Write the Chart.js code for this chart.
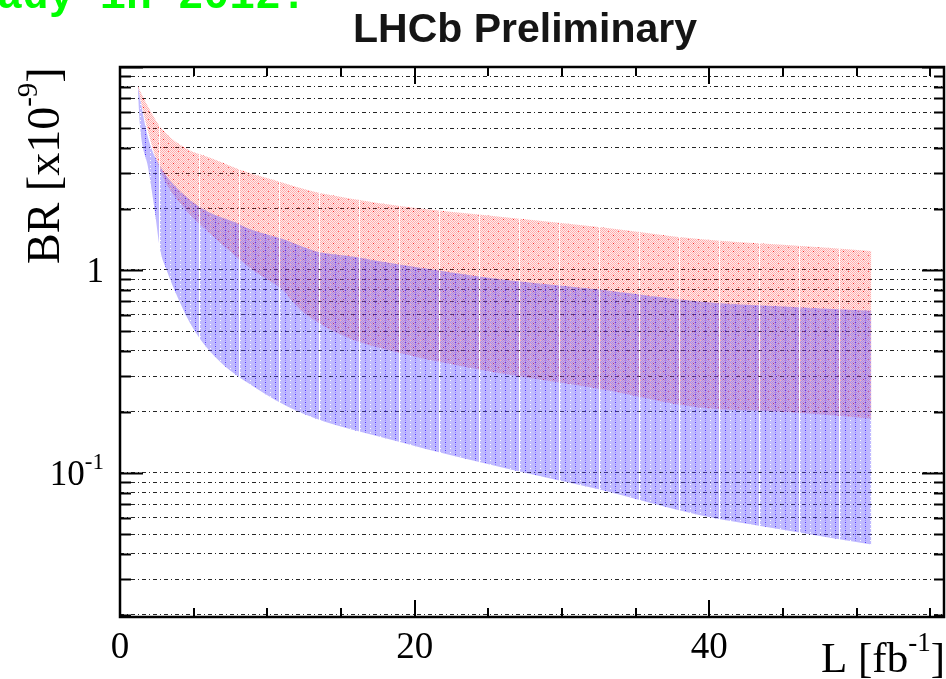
<!DOCTYPE html>
<html><head><meta charset="utf-8">
<script src="https://cdn.jsdelivr.net/npm/chart.js@4.4.0/dist/chart.umd.min.js"></script>
<style>html,body{margin:0;padding:0;background:#fff;}canvas{display:block;}</style>
</head><body>
<canvas id="c" width="946" height="679"></canvas>
<script>
// ---- data (L in fb^-1, BR in 1e-9) ----
const redUpperL  = [1.2, 1.7, 2.8, 4.4, 6.2, 8.8, 11, 13, 15.6, 19.4, 25.8, 32.5, 39.3, 45, 51];
const redUpperBR = [8.1, 6.8, 5.0, 4.0, 3.55, 3.0, 2.7, 2.45, 2.25, 2.05, 1.83, 1.63, 1.42, 1.33, 1.24];
const redLowerL  = [1.2, 1.7, 2.8, 4.4, 6.0, 7.1, 9.0, 11, 12.2, 15, 19, 25.8, 32.5, 39.3, 45, 51];
const redLowerBR = [8.1, 5.5, 3.0, 2.0, 1.54, 1.3, 1.0, 0.8, 0.64, 0.48, 0.39, 0.31, 0.26, 0.21, 0.2, 0.185];
const blueUpperL  = [1.2, 1.9, 2.83, 4.4, 6.0, 7.8, 8.8, 11.05, 13.4, 15.6, 17.4, 19.5, 25.8, 32.5, 39.3, 45, 51];
const blueUpperBR = [8.1, 4.5, 3.15, 2.33, 1.93, 1.72, 1.59, 1.42, 1.23, 1.17, 1.11, 1.05, 0.9, 0.8, 0.70, 0.66, 0.63];
const blueLowerL  = [1.2, 1.36, 1.92, 2.37, 2.71, 3.16, 4.0, 5.0, 6.6, 9.0, 12.2, 19, 25.8, 32.5, 39.3, 45, 51];
const blueLowerBR = [8.1, 5.1, 3.15, 1.93, 1.27, 1.0, 0.71, 0.51, 0.364, 0.268, 0.199, 0.142, 0.107, 0.083, 0.062, 0.0525, 0.0444];

const xTickValues = [0, 20, 40];
const xTickLabels = ['0', '20', '40'];
const yLabelValues = [1, 0.1];
const yLabelBase = ['1', '10'];
const yLabelSup = ['', '-1'];
const titleText = 'LHCb Preliminary';
const bannerText = 'ady in 2012.';

function pts(xs, ys) { return xs.map((x, i) => ({x: x, y: ys[i]})); }

function makePattern(kind) {
  const c = document.createElement('canvas');
  const w = 40, h = 8;
  c.width = w; c.height = h;
  const g = c.getContext('2d');
  for (let x = 0; x < w; x++) {
    if (x === w - 1) continue; // white gap column
    for (let y = 0; y < h; y++) {
      let col;
      if (kind === 'red') {
        col = ((x + y) % 2 === 0) ? 'rgba(255,30,30,0.36)' : 'rgba(255,0,0,0.08)';
        if (x % 10 === 3 && y % 8 === 3) col = 'rgba(255,0,0,0.9)';
        if (x % 10 === 8 && y % 8 === 7) col = 'rgba(255,0,0,0.6)';
      } else {
        col = 'rgba(95,80,255,0.40)';
        if (x % 10 === 0 && y % 4 === 0) col = 'rgba(255,255,255,0)';
        if (x % 10 === 5 && y % 4 === 2) col = 'rgba(30,0,255,0.8)';
        if (x % 10 === 5 && y % 4 === 0) col = 'rgba(80,60,255,0.6)';
      }
      g.fillStyle = col;
      g.fillRect(x, y, 1, 1);
    }
  }
  const ctx = document.getElementById('c').getContext('2d');
  return ctx.createPattern(c, 'repeat');
}

const redPattern = makePattern('red');
const bluePattern = makePattern('blue');

const serif = "'Liberation Serif','DejaVu Serif',serif";

function drawSup(ctx, base, sup, x, y, bigPx, smallPx, rise, align) {
  ctx.font = bigPx + 'px ' + serif; const wb = ctx.measureText(base).width;
  ctx.font = smallPx + 'px ' + serif; const ws = sup ? ctx.measureText(sup).width : 0;
  let x0 = align === 'right' ? x - wb - ws : x;
  ctx.textAlign = 'left';
  ctx.font = bigPx + 'px ' + serif; ctx.fillText(base, x0, y);
  if (sup) { ctx.font = smallPx + 'px ' + serif; ctx.fillText(sup, x0 + wb, y - rise); }
  return x0 + wb + ws;
}

const framePlugin = {
  id: 'frame',
  afterDraw(chart) {
    const ctx = chart.ctx;
    const a = chart.chartArea;
    const xs = chart.scales.x, ys = chart.scales.y;
    ctx.save();
    ctx.strokeStyle = '#000';
    ctx.lineWidth = 2;
    for (let v = 0; v <= 55; v += 5) {
      const px = Math.round(xs.getPixelForValue(v));
      const len = (v % 20 === 0) ? 17 : 9;
      ctx.beginPath();
      ctx.moveTo(px, a.bottom); ctx.lineTo(px, a.bottom - len);
      ctx.moveTo(px, a.top); ctx.lineTo(px, a.top + len);
      ctx.stroke();
    }
    ys.ticks.forEach(t => {
      const py = Math.round(ys.getPixelForValue(t.value)) + 0.5;
      const lg = Math.log10(t.value);
      const major = Math.abs(lg - Math.round(lg)) < 1e-6;
      const len = major ? 23 : 11;
      ctx.beginPath();
      ctx.moveTo(a.left, py); ctx.lineTo(a.left + len, py);
      ctx.moveTo(a.right, py); ctx.lineTo(a.right - len, py);
      ctx.stroke();
    });
    ctx.lineWidth = 2.5;
    ctx.strokeRect(a.left, a.top, a.right - a.left - 1, a.bottom - a.top);

    // y tick labels with superscripts, placed from the scale
    ctx.fillStyle = '#000';
    ctx.textBaseline = 'alphabetic';
    yLabelValues.forEach((v, i) => {
      const py = ys.getPixelForValue(v);
      drawSup(ctx, yLabelBase[i], yLabelSup[i], a.left - 16, py + 12, 35, 23, 16, 'right');
    });

    // title
    ctx.fillStyle = '#151515';
    ctx.font = "bold 41px 'Liberation Sans', Arial, sans-serif";
    ctx.textAlign = 'center';
    ctx.fillText(titleText, 525, 42);

    // green banner (cut off at top)
    ctx.fillStyle = '#00ff00';
    ctx.font = "bold 43px 'Liberation Mono', 'Courier New', monospace";
    ctx.textAlign = 'left';
    ctx.fillText(bannerText, -3, 8);

    // x axis title: L [fb^-1]
    ctx.fillStyle = '#000';
    ctx.font = '43px ' + serif; const w1 = ctx.measureText('L [fb').width, w3 = ctx.measureText(']').width;
    ctx.font = '27px ' + serif; const w2 = ctx.measureText('-1').width;
    let x0 = 945 - (w1 + w2 + w3);
    const end = drawSup(ctx, 'L [fb', '-1', x0, 672, 43, 27, 21, 'left');
    ctx.font = '43px ' + serif; ctx.fillText(']', end, 672);

    // y axis title: BR [x10^-9], rotated
    ctx.save();
    ctx.translate(59, 264);
    ctx.rotate(-Math.PI / 2);
    const e2 = drawSup(ctx, 'BR [x10', '-9', 0, 0, 46, 29, 22, 'left');
    ctx.font = '46px ' + serif; ctx.fillText(']', e2, 0);
    ctx.restore();
    ctx.restore();
  }
};

new Chart(document.getElementById('c'), {
  type: 'line',
  data: {
    datasets: [
      { label: 'blue upper', data: pts(blueUpperL, blueUpperBR), fill: '+1', backgroundColor: bluePattern,
        borderWidth: 0, borderColor: 'rgba(0,0,0,0)', pointRadius: 0, cubicInterpolationMode: 'monotone' },
      { label: 'blue lower', data: pts(blueLowerL, blueLowerBR), fill: false,
        borderWidth: 0, borderColor: 'rgba(0,0,0,0)', pointRadius: 0, cubicInterpolationMode: 'monotone' },
      { label: 'red upper', data: pts(redUpperL, redUpperBR), fill: '+1', backgroundColor: redPattern,
        borderWidth: 0, borderColor: 'rgba(0,0,0,0)', pointRadius: 0, cubicInterpolationMode: 'monotone' },
      { label: 'red lower', data: pts(redLowerL, redLowerBR), fill: false,
        borderWidth: 0, borderColor: 'rgba(0,0,0,0)', pointRadius: 0, cubicInterpolationMode: 'monotone' }
    ]
  },
  options: {
    responsive: false,
    animation: false,
    events: [],
    layout: { padding: { top: 67, right: 1, left: 0, bottom: 0 } },
    plugins: { legend: { display: false }, tooltip: { enabled: false }, title: { display: false } },
    scales: {
      x: {
        type: 'linear', min: 0, max: 56,
        border: { display: false },
        grid: { display: false, drawTicks: false },
        afterBuildTicks: s => { s.ticks = xTickValues.map(v => ({ value: v })); },
        afterFit: s => { s.height = 62; },
        ticks: {
          autoSkip: false, maxRotation: 0, padding: 9,
          color: '#000', font: { family: serif, size: 37 },
          callback: v => { const i = xTickValues.indexOf(v); return i >= 0 ? xTickLabels[i] : ''; }
        }
      },
      y: {
        type: 'logarithmic', min: 0.0195, max: 10,
        border: { display: false, dash: [4, 3, 1, 3] },
        grid: { display: true, drawTicks: false, color: 'rgba(0,0,0,0.85)', lineWidth: 1 },
        afterBuildTicks: s => {
          const t = [];
          for (let e = -2; e <= 1; e++) for (let m = 1; m <= 9; m++) {
            const v = m * Math.pow(10, e);
            if (v >= 0.0195 && v <= 10.0001) t.push({ value: v });
          }
          s.ticks = t;
        },
        afterFit: s => { s.width = 120; },
        ticks: { display: false }
      }
    }
  },
  plugins: [framePlugin]
});
</script>
</body></html>
